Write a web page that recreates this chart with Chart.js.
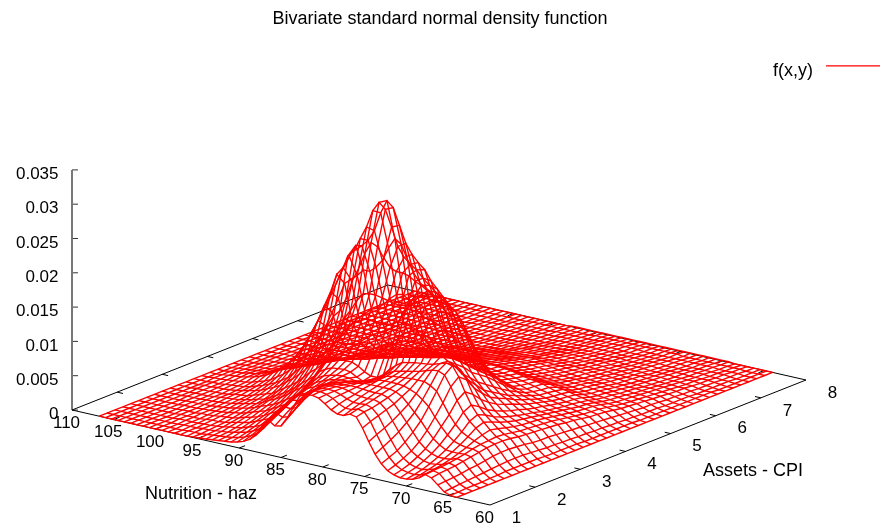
<!DOCTYPE html>
<html>
<head>
<meta charset="utf-8">
<title>Bivariate standard normal density function</title>
<script src="https://cdn.jsdelivr.net/npm/chart.js@4"></script>
<style>
  html, body { margin:0; padding:0; background:#fff; }
  canvas { display:block; }
</style>
</head>
<body>
<canvas id="chart" width="880" height="529"></canvas>
<script>
const hazTicks = [110,105,100,95,90,85,80,75,70,65,60];
const cpiTicks = [1,2,3,4,5,6,7,8];
const zTicks = [0,0.005,0.01,0.015,0.02,0.025,0.03,0.035];
const zTickLabels = ['0','0.005','0.01','0.015','0.02','0.025','0.03','0.035'];

// grid of the surface, density in units of 0.0001
const hazGrid = [64,64.75,65.5,66.25,67,67.75,68.5,69.25,70,70.75,71.5,72.25,73,73.75,74.5,75.25,76,76.75,77.5,78.25,79,79.75,80.5,81.25,82,82.75,83.5,84.25,85,85.75,86.5,87.25,88,88.75,89.5,90.25,91,91.75,92.5,93.25,94,94.75,95.5,96.25,97,97.75,98.5,99.25,100,100.75,101.5,102.25,103,103.75,104.5,105.25,106,106.75];
const cpiGrid = [1,1.175,1.35,1.525,1.7,1.875,2.05,2.225,2.4,2.575,2.75,2.925,3.1,3.275,3.45,3.625,3.8,3.975,4.15,4.325,4.5,4.675,4.85,5.025,5.2,5.375,5.55,5.725,5.9,6.075,6.25,6.425,6.6,6.775,6.95,7.125,7.3,7.475,7.65,7.825,8];
const densityUnit = 0.0001;
const density = [
[0,1,4,12,20,23,16,12,10,10,12,16,24,36,52,70,84,86,82,82,86,93,99,101,100,96,78,60,46,44,50,40,24,16,11,8,6,5,4,3,2,1,1,0,0,0,0,0,0,0,0,0,0,0,0,0,0,0],
[0,1,5,13,22,24,18,14,12,13,15,20,29,42,58,75,87,89,86,86,90,96,100,102,101,97,84,68,55,52,56,47,30,21,15,11,8,6,5,4,3,2,1,1,1,0,0,0,0,0,0,0,0,0,0,0,0,0],
[0,2,6,14,23,25,20,17,15,16,19,25,34,48,63,79,88,91,90,90,93,97,100,101,100,97,88,76,64,60,61,53,37,27,20,15,11,9,7,5,4,3,2,2,1,1,1,0,0,0,0,0,0,0,0,0,0,0],
[0,2,7,15,24,26,22,20,19,21,25,31,42,55,69,83,91,94,93,94,95,98,100,100,99,97,91,82,72,67,66,58,44,33,25,19,15,12,9,7,6,4,3,2,2,1,1,1,1,0,0,0,0,0,0,0,0,0],
[0,2,8,17,26,28,25,24,24,27,32,40,52,64,76,87,94,97,97,97,98,99,99,98,97,95,92,86,78,73,70,63,50,39,31,24,20,16,12,10,8,6,4,3,3,2,1,1,1,1,0,0,0,0,0,0,0,0],
[0,3,9,18,28,30,29,29,30,35,42,52,64,74,84,93,98,100,100,100,100,100,98,96,95,93,91,87,83,78,74,68,57,46,37,30,25,20,16,13,11,8,6,5,4,3,2,2,1,1,1,0,0,0,0,0,0,0],
[0,3,10,20,30,33,33,35,38,45,55,67,80,88,95,99,102,103,103,103,102,101,97,94,92,90,90,88,86,82,78,72,63,52,43,35,30,25,20,17,14,11,8,7,5,4,3,2,2,1,1,1,0,0,0,0,0,0],
[0,4,11,22,32,35,38,42,47,56,68,83,98,104,108,108,108,107,106,105,103,100,95,90,87,86,88,89,88,86,83,78,70,59,49,42,36,30,25,21,18,14,11,9,7,5,4,3,2,2,1,1,1,0,0,0,0,0],
[0,4,12,23,33,36,42,50,58,69,84,102,117,121,120,117,114,112,110,108,106,101,93,85,81,81,85,90,92,91,90,86,80,68,57,50,44,37,31,26,22,17,13,11,9,7,5,4,3,2,2,1,1,1,0,0,0,0],
[0,4,12,23,33,37,45,54,63,75,92,112,126,128,125,122,120,119,118,116,114,108,100,90,84,84,88,94,98,98,98,96,92,78,65,58,51,43,36,30,25,20,15,13,10,8,6,5,4,3,2,1,1,1,0,0,0,0],
[0,4,12,22,32,36,42,50,58,68,84,103,116,120,124,130,134,141,150,156,155,150,138,122,112,110,112,118,120,118,116,112,105,92,78,69,62,53,44,37,31,25,19,16,13,10,7,6,5,3,2,2,1,1,1,0,0,0],
[0,4,11,21,30,34,39,45,51,59,72,86,96,103,115,127,137,155,175,187,192,188,176,160,152,150,148,150,152,148,144,136,124,112,97,86,78,67,57,48,40,33,26,21,17,13,10,8,6,4,3,2,2,1,1,0,0,0],
[0,3,10,19,29,32,36,41,46,53,63,74,84,93,106,120,132,154,178,192,197,196,190,178,175,176,178,180,182,182,180,168,152,138,120,106,96,84,72,61,51,42,33,27,21,17,13,10,7,5,4,3,2,1,1,0,0,0],
[0,3,9,18,28,31,34,38,42,48,56,64,72,82,94,110,124,146,172,186,192,198,204,208,214,216,216,220,232,246,250,232,208,188,160,140,130,114,96,82,70,58,46,37,29,23,17,13,10,7,5,4,3,2,1,1,0,0],
[0,3,9,18,27,30,33,36,39,44,51,58,65,74,86,102,118,138,162,176,184,192,200,208,218,224,232,246,272,296,304,290,264,245,225,215,190,168,145,124,106,88,70,56,44,34,26,20,15,11,8,6,4,3,2,1,0,0],
[0,3,8,17,26,29,32,34,36,41,47,53,58,66,78,94,110,128,150,163,170,180,190,200,214,222,232,246,270,294,302,282,254,238,228,226,208,190,178,150,128,104,84,66,50,39,30,22,16,12,9,6,5,3,2,1,0,0],
[0,3,8,16,25,28,30,32,34,37,42,47,51,58,68,80,92,106,122,132,138,146,154,162,174,180,186,198,216,236,242,226,206,194,186,186,176,168,160,136,114,92,74,58,44,34,26,19,14,10,7,5,4,3,2,1,0,0],
[0,2,7,15,23,26,28,30,31,34,38,42,46,51,58,65,72,80,90,96,100,105,110,116,122,126,128,132,140,150,156,154,146,136,128,124,116,108,98,84,72,60,50,40,32,25,19,14,11,8,6,4,3,2,1,1,0,0],
[0,2,7,14,22,24,26,28,29,32,35,38,41,45,49,53,58,62,66,69,72,75,78,82,85,88,91,94,98,102,105,106,103,96,90,86,80,74,66,58,50,43,36,30,25,19,15,12,9,7,5,3,2,2,1,0,0,0],
[0,2,6,13,20,22,24,26,27,29,32,34,37,39,42,44,47,49,51,53,55,57,59,62,64,66,68,70,73,75,77,77,75,71,66,63,58,54,48,43,38,33,28,24,20,16,12,10,8,6,4,3,2,1,1,0,0,0],
[0,2,6,12,18,20,22,24,25,27,29,31,33,36,38,41,44,46,48,49,50,51,53,54,55,57,58,59,60,61,61,61,60,58,55,52,49,46,42,38,34,30,25,21,18,14,11,9,7,5,4,3,2,1,1,0,0,0],
[0,2,5,11,17,19,21,22,24,25,27,29,32,34,37,39,41,43,45,46,47,48,50,51,52,53,53,54,54,54,54,53,52,49,46,43,40,37,33,30,27,23,20,17,14,11,9,7,6,4,3,2,1,1,1,0,0,0],
[0,2,5,10,16,18,20,21,22,24,26,28,30,33,36,38,39,41,43,45,46,47,48,49,49,49,49,48,47,46,45,44,43,40,37,33,30,27,24,22,20,17,14,12,10,8,7,5,4,3,2,2,1,1,0,0,0,0],
[0,2,4,9,14,16,18,19,20,22,24,26,28,29,31,32,33,35,36,37,38,39,40,40,40,40,40,40,40,39,38,37,35,33,30,28,26,24,21,19,17,15,13,11,9,8,6,5,4,3,2,1,1,1,0,0,0,0],
[0,1,4,8,12,14,15,16,17,18,20,21,22,24,25,26,27,28,29,30,31,32,33,34,34,34,34,33,32,31,30,29,28,26,24,22,20,18,16,14,13,11,10,8,7,6,5,4,3,2,2,1,1,0,0,0,0,0],
[0,1,3,7,11,12,13,14,15,16,17,18,19,20,21,22,23,24,25,26,27,28,29,30,31,31,30,30,29,28,27,26,24,22,20,18,17,15,13,12,11,9,8,7,6,5,4,3,3,2,1,1,1,0,0,0,0,0],
[0,1,3,6,10,11,12,13,14,15,16,17,18,19,19,20,20,21,22,23,24,25,26,27,28,28,28,27,26,25,24,23,21,20,18,16,15,13,11,10,9,8,7,6,5,4,3,3,2,2,1,1,0,0,0,0,0,0],
[0,1,3,6,9,10,11,12,12,13,14,15,16,17,17,18,18,19,20,21,22,23,24,25,25,25,25,24,23,22,21,20,18,17,15,14,12,11,9,8,7,6,5,5,4,3,3,2,2,1,1,1,0,0,0,0,0,0],
[0,1,2,5,8,9,10,10,11,12,12,13,14,14,15,15,16,17,18,19,20,21,22,22,22,22,22,21,20,19,18,17,16,14,13,12,10,9,8,7,6,5,4,4,3,3,2,2,2,1,1,1,0,0,0,0,0,0],
[0,1,2,4,7,8,9,9,10,10,11,11,12,13,13,14,15,16,16,17,18,18,19,19,20,20,19,19,18,17,16,15,14,12,11,10,9,8,7,6,5,4,4,3,3,2,2,2,1,1,1,0,0,0,0,0,0,0],
[0,1,2,4,6,7,8,8,8,9,9,10,11,11,12,12,13,14,14,15,15,16,16,16,16,16,16,15,15,14,13,12,11,10,9,8,7,6,5,5,4,4,3,3,2,2,2,1,1,1,0,0,0,0,0,0,0,0],
[0,1,2,3,5,6,7,7,7,8,8,9,9,10,10,11,11,11,12,12,13,13,13,14,14,14,13,13,12,11,11,10,9,8,7,6,6,5,4,4,3,3,3,2,2,2,1,1,1,1,0,0,0,0,0,0,0,0],
[0,1,1,3,5,5,6,6,6,7,7,8,8,8,9,9,9,10,10,11,11,11,12,12,12,12,11,11,10,10,9,8,8,7,6,5,5,4,4,3,3,3,2,2,2,1,1,1,1,0,0,0,0,0,0,0,0,0],
[0,1,1,2,4,4,5,5,5,6,6,6,7,7,7,8,8,8,9,9,9,9,10,10,10,10,9,9,8,8,7,7,6,6,5,4,4,3,3,3,2,2,2,2,1,1,1,1,0,0,0,0,0,0,0,0,0,0],
[0,0,1,2,3,4,4,4,4,5,5,5,5,6,6,6,6,7,7,7,7,8,8,8,8,8,7,7,7,6,6,5,5,4,4,3,3,3,2,2,2,2,1,1,1,1,1,0,0,0,0,0,0,0,0,0,0,0],
[0,0,1,2,3,3,3,3,4,4,4,4,4,5,5,5,5,5,6,6,6,6,6,6,6,6,6,5,5,5,4,4,4,3,3,3,2,2,2,2,1,1,1,1,1,0,0,0,0,0,0,0,0,0,0,0,0,0],
[0,0,1,1,2,2,3,3,3,3,3,3,3,4,4,4,4,4,4,4,5,5,5,5,5,5,4,4,4,4,3,3,3,3,2,2,2,2,1,1,1,1,1,1,0,0,0,0,0,0,0,0,0,0,0,0,0,0],
[0,0,0,1,2,2,2,2,2,2,2,3,3,3,3,3,3,3,3,3,3,4,4,4,4,4,3,3,3,3,3,2,2,2,2,2,1,1,1,1,1,1,0,0,0,0,0,0,0,0,0,0,0,0,0,0,0,0],
[0,0,0,1,1,1,1,2,2,2,2,2,2,2,2,2,2,2,2,3,3,3,3,3,3,3,2,2,2,2,2,2,2,1,1,1,1,1,1,1,0,0,0,0,0,0,0,0,0,0,0,0,0,0,0,0,0,0],
[0,0,0,0,1,1,1,1,1,1,1,1,1,1,2,2,2,2,2,2,2,2,2,2,2,2,2,2,1,1,1,1,1,1,1,1,1,1,0,0,0,0,0,0,0,0,0,0,0,0,0,0,0,0,0,0,0,0],
[0,0,0,0,0,0,0,1,1,1,1,1,1,1,1,1,1,1,1,1,1,1,1,1,1,1,1,1,1,1,1,1,1,0,0,0,0,0,0,0,0,0,0,0,0,0,0,0,0,0,0,0,0,0,0,0,0,0]
];

const RED = '#ff0000';
const SANS = '"Liberation Sans", Arial, sans-serif';

// gnuplot style fixed view: the base plane is a parallelogram on the canvas
const ORIGIN = { x:72, y:410 };     // haz 110, cpi 1, z 0
const HAZ_VEC = { x:418, y:95 };    // haz 110 -> 60
const CPI_VEC = { x:316, y:-125 };  // cpi 1 -> 8
const Z_PX = 6860;                  // pixels per unit of density

function project(haz, cpi, z){
  const u = (110-haz)/50, v = (cpi-1)/7;
  return {
    x: ORIGIN.x + u*HAZ_VEC.x + v*CPI_VEC.x,
    y: ORIGIN.y + u*HAZ_VEC.y + v*CPI_VEC.y - z*Z_PX,
  };
}

const lineSet = (data, color, width) => ({
  data, borderColor:color, borderWidth:width, showLine:true, pointRadius:0, fill:false, tension:0,
});

const datasets = [];

// legend sample line
datasets.push(lineSet([{x:826,y:65.8},{x:880,y:65.8}],RED,1.2));

// --- Surface ---
density.forEach((row, r) => {
  const pts = row.map((v, c) => project(hazGrid[c], cpiGrid[r], v*densityUnit));
  datasets.push(lineSet(pts, RED, 1.4));
});
hazGrid.forEach((haz, c) => {
  const pts = density.map((row, r) => project(haz, cpiGrid[r], row[c]*densityUnit));
  datasets.push(lineSet(pts, RED, 1.4));
});

// --- Base box and ticks (later datasets are painted underneath) ---
const edge = (a, b, color='#000', w=1) => datasets.push(lineSet([project(...a), project(...b)], color, w));
edge([110,1,0],[60,1,0]);
edge([60,1,0],[60,8,0]);
edge([60,8,0],[110,8,0]);
edge([110,8,0],[110,1,0]);
edge([110,1,0],[110,1,0.035],'#777',2);

const TICK_CPI = 0.13, TICK_HAZ = 0.7;
hazTicks.forEach(h => {
  if (h!==110 && h!==60) {
    edge([h,1,0],[h,1+TICK_CPI,0]);
    edge([h,8,0],[h,8-TICK_CPI,0]);
  }
});
cpiTicks.forEach(c => {
  if (c!==1 && c!==8) {
    edge([60,c,0],[60+TICK_HAZ,c,0]);
    edge([110,c,0],[110-TICK_HAZ,c,0]);
  }
});
zTicks.forEach(z => {
  const p = project(110,1,z);
  datasets.push(lineSet([p,{x:p.x+6,y:p.y}],'#333',1));
});

// --- Text ---
const textPlugin = {
  id:'plotText',
  afterDraw(chart){
    const {ctx, scales:{x:sx, y:sy}} = chart;
    const put = (txt, px, py, align='center') => {
      ctx.textAlign = align;
      ctx.fillText(txt, sx.getPixelForValue(px), sy.getPixelForValue(py));
    };
    ctx.save();
    ctx.font = '17px '+SANS;
    ctx.fillStyle = '#000';
    ctx.textBaseline = 'middle';
    zTicks.forEach((z,i) => {
      const p = project(110,1,z);
      put(zTickLabels[i], p.x-13.5, p.y+4.5, 'right');
    });
    hazTicks.forEach(h => {
      const p = project(h,1,0);
      put(String(h), p.x-5.5, p.y+13);
    });
    cpiTicks.forEach(c => {
      const p = project(60,c,0);
      put(String(c), p.x+26.5, p.y+13);
    });
    ctx.font = '18px '+SANS;
    put('Nutrition - haz', 201, 494);
    put('Assets - CPI', 753, 471);
    put('f(x,y)', 813, 71, 'right');
    ctx.restore();
  }
};

new Chart(document.getElementById('chart'), {
  type:'scatter',
  data:{ datasets },
  plugins:[textPlugin],
  options:{
    responsive:false,
    animation:false,
    events:[],
    layout:{ padding:0 },
    plugins:{
      legend:{ display:false },
      tooltip:{ enabled:false },
      title:{
        display:true,
        text:'Bivariate standard normal density function',
        color:'#000',
        font:{ family:SANS, size:18, weight:'normal', lineHeight:1.25 },
        padding:{ top:7.5, bottom:4 },
      },
    },
    scales:{
      x:{ type:'linear', display:false, min:0, max:880 },
      y:{ type:'linear', display:false, min:34, max:529, reverse:true },
    },
  },
});
</script>
</body>
</html>
